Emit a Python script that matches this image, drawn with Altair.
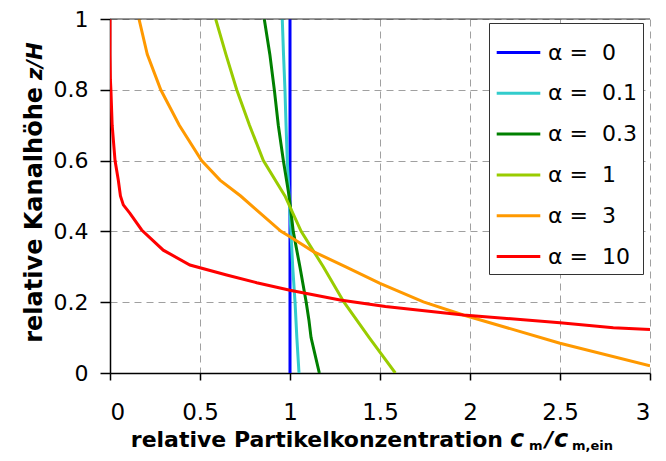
import altair as alt
import pandas as pd

# ---- data ----
labels = ["α = \u00a00", "α = \u00a00.1", "α = \u00a00.3", "α = \u00a01", "α = \u00a03", "α = \u00a010"]
colors = ["#0000FF", "#33CCCC", "#008000", "#99CC00", "#FF9900", "#FF0000"]

z_a0 = [0.0, 0.2, 0.4, 0.6, 0.8, 1.0]
c_a0 = [1.0, 1.0, 1.0, 1.0, 1.0, 1.0]

z_a01 = [0.0, 0.1, 0.2, 0.3, 0.4, 0.5, 0.6, 0.7, 0.8, 0.9, 1.0]
c_a01 = [1.05, 1.038, 1.028, 1.015, 1.005, 0.995, 0.985, 0.978, 0.972, 0.964, 0.957]

z_a03 = [0.0, 0.05, 0.1, 0.15, 0.2, 0.3, 0.4, 0.5, 0.6, 0.7, 0.8, 0.9, 1.0]
c_a03 = [1.163, 1.14, 1.117, 1.105, 1.09, 1.055, 1.018, 0.995, 0.963, 0.935, 0.913, 0.888, 0.857]

z_a1 = [0.0, 0.1, 0.2, 0.3, 0.4, 0.5, 0.6, 0.7, 0.8, 0.9, 1.0]
c_a1 = [1.585, 1.44, 1.30, 1.185, 1.062, 0.972, 0.852, 0.775, 0.704, 0.644, 0.587]

z_a3 = [0.02, 0.084, 0.164, 0.201, 0.253, 0.3, 0.343, 0.385, 0.4, 0.5, 0.545, 0.6, 0.7, 0.8, 0.9, 1.0]
c_a3 = [3.0, 2.5, 1.963, 1.741, 1.5, 1.31, 1.13, 1.0, 0.95, 0.726, 0.611, 0.509, 0.385, 0.282, 0.207, 0.161]

z_a10 = [0.123, 0.128, 0.142, 0.164, 0.188, 0.206, 0.234, 0.255, 0.277, 0.305, 0.347, 0.404,
         0.451, 0.475, 0.5, 0.545, 0.6, 0.7, 0.8, 0.83, 0.9, 1.0]
c_a10 = [3.0, 2.796, 2.5, 1.963, 1.53, 1.278, 1.0, 0.815, 0.648, 0.444, 0.296, 0.176,
         0.111, 0.074, 0.058, 0.046, 0.028, 0.012, 0.005, 0.002, 0.0, 0.0]

x_ticks = [0, 0.5, 1, 1.5, 2, 2.5, 3]
y_ticks = [0, 0.2, 0.4, 0.6, 0.8, 1.0]

series = [(z_a0, c_a0), (z_a01, c_a01), (z_a03, c_a03), (z_a1, c_a1), (z_a3, c_a3), (z_a10, c_a10)]
rows = []
for lab, (zs, cs) in zip(labels, series):
    for i, (z, c) in enumerate(zip(zs, cs)):
        rows.append({"series": lab, "c": c, "z": z, "i": i})
df = pd.DataFrame(rows)

W, H = 540, 354
FONT = "DejaVu Sans"

lines = alt.Chart(df).mark_line(strokeWidth=3, clip=True).encode(
    x=alt.X("c:Q", scale=alt.Scale(domain=[0, 3], nice=False),
            axis=alt.Axis(values=x_ticks, format="~g", title=None, tickSize=7,
                          labelPadding=21, labelFontSize=23)),
    y=alt.Y("z:Q", scale=alt.Scale(domain=[0, 1], nice=False),
            axis=alt.Axis(values=y_ticks, format="~g", title=None, tickSize=10,
                          labelPadding=12, labelFontSize=22)),
    color=alt.Color("series:N", scale=alt.Scale(domain=labels, range=colors),
                    legend=alt.Legend(title=None, orient="none", legendX=379, legendY=4,
                                      symbolType="stroke", symbolSize=1900,
                                      symbolStrokeWidth=3, labelFont=FONT,
                                      labelFontSize=22, labelColor="black",
                                      labelOffset=6, padding=6, rowPadding=5.8,
                                      strokeColor="#333333", fillColor="white",
                                      labelLimit=0)),
    order=alt.Order("i:Q"),
)

top_rule = alt.Chart().mark_rule(color="#333333", strokeWidth=1).encode(y=alt.datum(1))

def txt(s, x, y, size, italic=False, align="left", angle=0):
    props = dict(text=s, font=FONT, fontSize=size, fontWeight="bold", align=align,
                 baseline="alphabetic", color="black")
    if italic:
        props["fontStyle"] = "italic"
    if angle:
        props["angle"] = angle
    return alt.Chart().mark_text(**props).encode(x=alt.value(x), y=alt.value(y))

title_parts = [
    txt("relative Partikelkonzentration", 393, 428, 22, align="right"),
    txt("c", 400, 428, 24, italic=True),
    txt("m", 419, 431, 13),
    txt("/", 435, 428, 22, italic=True),
    txt("c", 444, 428, 24, italic=True),
    txt("m,ein", 462, 431, 13),
    txt("relative Kanalhöhe", -68, 68, 24, align="right", angle=270),
    txt("z/H", -68, 61, 21, italic=True, align="left", angle=270),
]

chart = alt.layer(lines, top_rule, *title_parts).properties(
    width=W, height=H,
    autosize=alt.AutoSizeParams(type="none"),
    padding={"left": 102, "top": 11, "right": 8, "bottom": 80},
).configure_view(stroke=None).configure_axis(
    labelFont=FONT, labelColor="black",
    domainColor="black", domainWidth=1.5, tickColor="black", tickWidth=1.5,
    gridColor="#a0a0a0", gridDash=[7, 5], gridWidth=1,
)

chart.save("out.html", embed_options={"renderer": "svg", "actions": False})
